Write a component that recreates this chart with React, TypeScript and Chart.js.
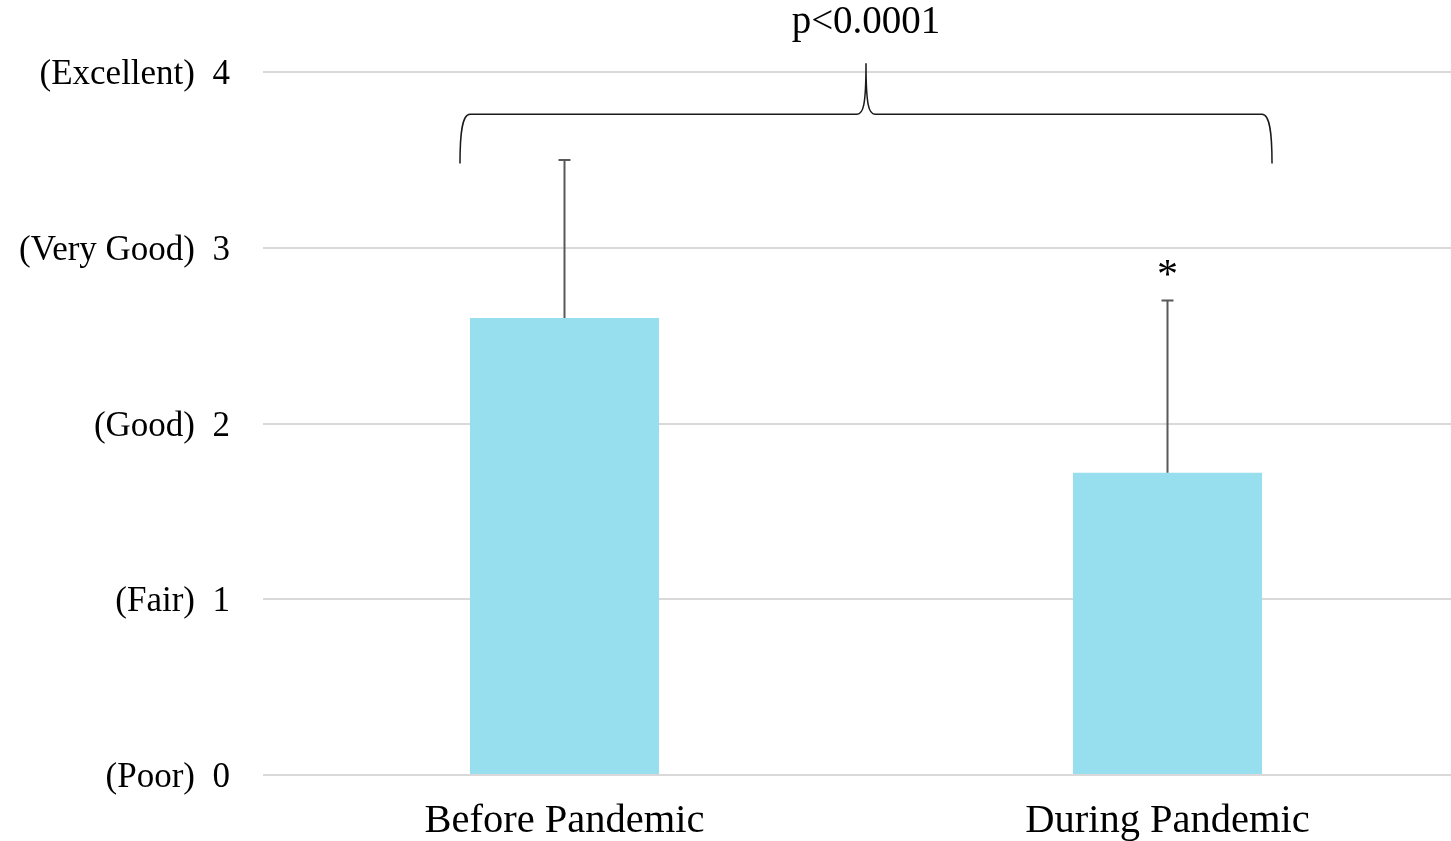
import React, { useEffect, useRef } from "react";
import { Chart, registerables } from "chart.js";

Chart.register(...registerables);

const categories = ["Before Pandemic", "During Pandemic"];
const means = [2.6, 1.72];
const errorPlus = [0.9, 0.98];
const yTickValues = [0, 1, 2, 3, 4];
const yTickWords = ["(Poor)", "(Fair)", "(Good)", "(Very Good)", "(Excellent)"];
const pLabel = "p<0.0001";
const sigMarks = ["", "*"];

const FONT = "'Liberation Serif', 'Times New Roman', serif";

const annotationPlugin = {
  id: "annot",
  afterDatasetsDraw(chart: any) {
    const ctx = chart.ctx;
    const meta = chart.getDatasetMeta(0);
    const y = chart.scales.y;
    ctx.save();
    // error bars
    ctx.strokeStyle = "#595959";
    ctx.lineWidth = 2;
    meta.data.forEach((bar: any, i: number) => {
      const top = y.getPixelForValue(means[i] + errorPlus[i]);
      const base = y.getPixelForValue(means[i]);
      ctx.beginPath();
      ctx.moveTo(bar.x, base);
      ctx.lineTo(bar.x, top);
      ctx.moveTo(bar.x - 6, top);
      ctx.lineTo(bar.x + 6, top);
      ctx.stroke();
      if (sigMarks[i]) {
        ctx.fillStyle = "#000";
        ctx.font = `42px ${FONT}`;
        ctx.textAlign = "center";
        ctx.textBaseline = "alphabetic";
        ctx.fillText(sigMarks[i], bar.x, top - 12);
      }
    });
    // brace
    const b0 = meta.data[0];
    const b1 = meta.data[1];
    const xl = b0.x - b0.width / 2 - 10;
    const xr = b1.x + b1.width / 2 + 10;
    const xm = (xl + xr) / 2;
    const yb = y.getPixelForValue(3.48);
    const yh = y.getPixelForValue(3.76);
    const yp = y.getPixelForValue(4.05);
    ctx.strokeStyle = "#1a1a1a";
    ctx.lineWidth = 1.5;
    ctx.beginPath();
    ctx.moveTo(xl, yb);
    ctx.bezierCurveTo(xl, yh + 20, xl + 2, yh, xl + 10, yh);
    ctx.lineTo(xm - 9, yh);
    ctx.bezierCurveTo(xm - 3, yh, xm, yh - 8, xm, yp);
    ctx.bezierCurveTo(xm, yh - 8, xm + 3, yh, xm + 9, yh);
    ctx.lineTo(xr - 10, yh);
    ctx.bezierCurveTo(xr - 2, yh, xr, yh + 20, xr, yb);
    ctx.stroke();
    ctx.fillStyle = "#000";
    ctx.font = `39px ${FONT}`;
    ctx.textAlign = "center";
    ctx.textBaseline = "middle";
    ctx.fillText(pLabel, xm, y.getPixelForValue(4.28));
    ctx.restore();
  },
};

export default function App() {
  const ref = useRef<HTMLCanvasElement | null>(null);
  useEffect(() => {
    if (!ref.current) return;
    const chart = new Chart(ref.current, {
      type: "bar",
      data: {
        labels: categories,
        datasets: [
          {
            data: means,
            backgroundColor: "#97dfee",
            borderWidth: 0,
            barPercentage: 0.627,
            categoryPercentage: 0.5,
          },
        ],
      },
      options: {
        animation: false,
        responsive: false,
        maintainAspectRatio: false,
        layout: { padding: { top: 72, right: 0, bottom: 0, left: 0 } },
        plugins: { legend: { display: false }, tooltip: { enabled: false } },
        scales: {
          x: {
            grid: { display: false, drawTicks: false },
            border: { display: false },
            ticks: { color: "#000", font: { family: FONT, size: 40.5 }, padding: 22 },
            afterFit(scale: any) {
              scale.height = 66;
            },
          },
          y: {
            min: 0,
            max: 4,
            afterBuildTicks(scale: any) {
              scale.ticks = yTickValues.map((v) => ({ value: v }));
            },
            grid: { color: "#d9d9d9", lineWidth: 2, drawTicks: false },
            border: { display: false },
            ticks: {
              color: "#000",
              font: { family: FONT, size: 35 },
              padding: 33,
              labelOffset: 3,
              callback: (v: any) => `${yTickWords[yTickValues.indexOf(Number(v))]}  ${v}`,
            },
            afterFit(scale: any) {
              scale.width = 263;
            },
          },
        },
      },
      plugins: [annotationPlugin],
    });
    return () => chart.destroy();
  }, []);
  return (
    <div style={{ position: "fixed", left: 0, top: 0, width: 1451, height: 841, background: "#fff", overflow: "hidden" }}>
      <canvas ref={ref} width={1469} height={841} style={{ width: 1469, height: 841, display: "block" }} />
    </div>
  );
}
